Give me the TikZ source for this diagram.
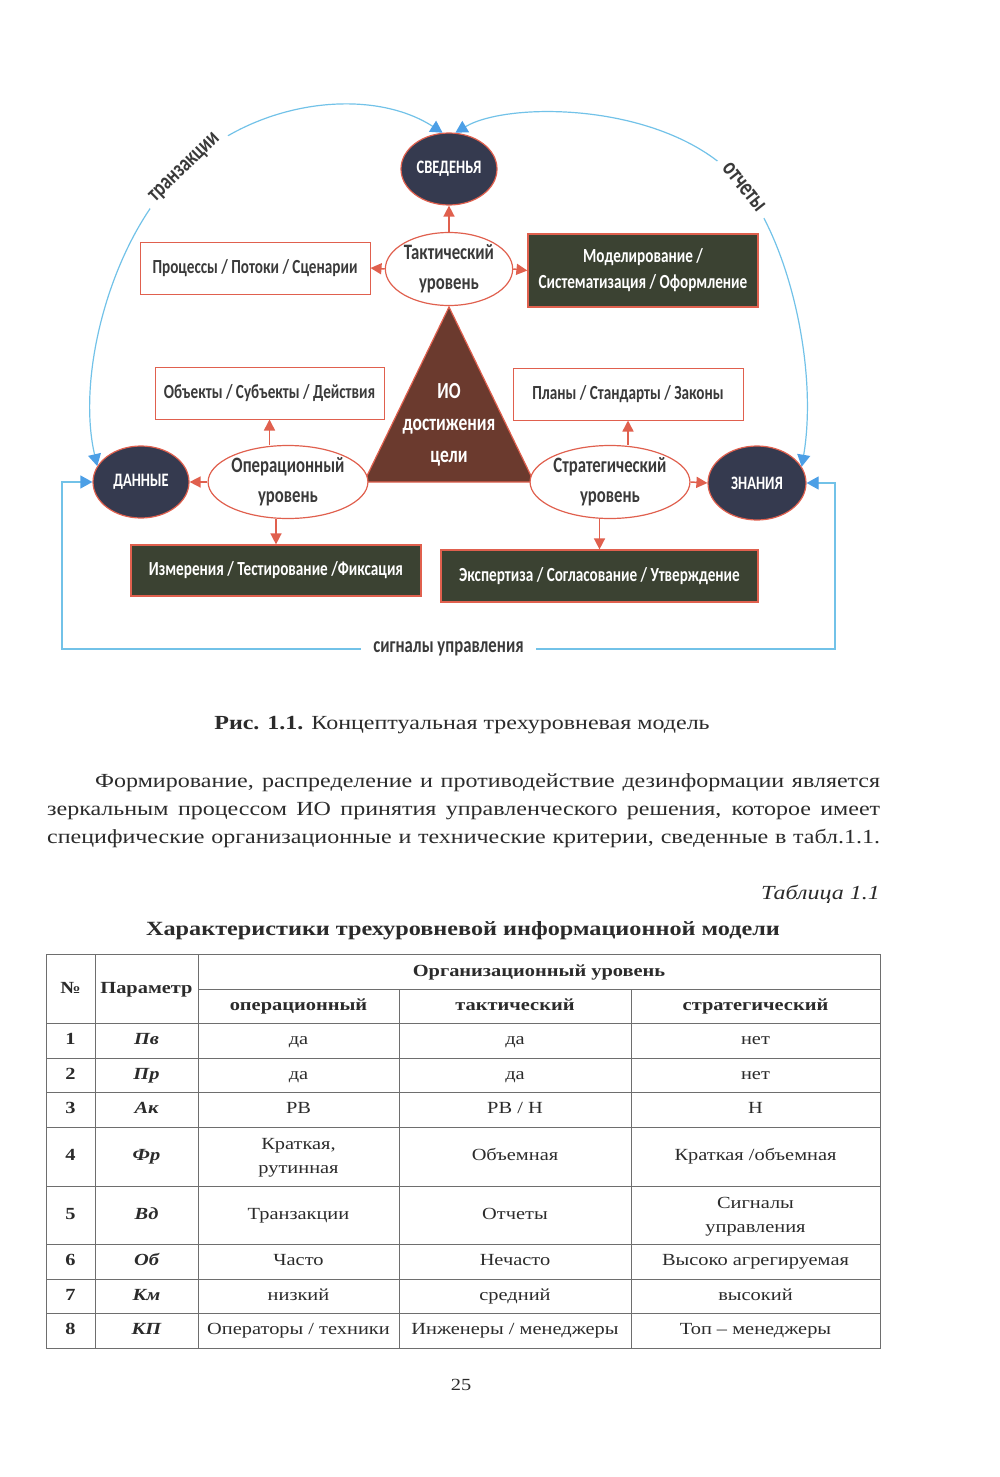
\documentclass[tikz,border=0pt]{standalone}
\usepackage{fontspec}
\setmainfont{Liberation Serif}[FakeStretch=1.2]
\newfontfamily\dfont{Carlito}[FakeStretch=0.76]
\usetikzlibrary{shapes.geometric,arrows.meta,calc}
\definecolor{navy}{HTML}{353A4F}
\definecolor{olive}{HTML}{3B4232}
\definecolor{brownfill}{HTML}{6B3A2E}
\definecolor{redl}{HTML}{E0604E}
\definecolor{bluel}{HTML}{72C2E8}
\definecolor{bluetip}{HTML}{4C9FE6}
\definecolor{dgray}{HTML}{3A3A3A}
\definecolor{ink}{HTML}{2B2B2B}
\definecolor{gridc}{HTML}{6E6E6E}
\begin{document}
\begin{tikzpicture}[x=1pt,y=-1pt,
  darkell/.style={ellipse, draw=redl, line width=1.2pt, fill=navy, text=white,
    font=\dfont\bfseries\fontsize{19}{22}\selectfont, minimum width=96, minimum height=72, inner sep=0pt},
  lvl/.style={ellipse, draw=redl, line width=1.2pt, fill=white, text=dgray, align=center,
    font=\dfont\bfseries\fontsize{22}{30}\selectfont, minimum height=73, inner sep=0pt},
  wbox/.style={rectangle, draw=redl, line width=1pt, fill=white, text=dgray,
    font=\dfont\bfseries\fontsize{20}{26}\selectfont, minimum height=52, inner sep=0pt},
  gbox/.style={rectangle, draw=redl, line width=1.2pt, fill=olive, text=white, align=center,
    font=\dfont\bfseries\fontsize{20}{26}\selectfont, inner sep=0pt},
  ra/.style={draw=redl, line width=1.5pt, -{Triangle[length=11pt,width=11pt]}},
  bl/.style={draw=bluel, line width=1.2pt,
    {Triangle[length=12pt,width=13pt,color=bluetip]}-{Triangle[length=12pt,width=13pt,color=bluetip]}},
  blab/.style={fill=white, text=dgray, font=\dfont\bfseries\fontsize{22}{24}\selectfont, inner xsep=8pt, inner ysep=2pt},
  tcell/.style={font=\fontsize{17}{24}\selectfont, text=ink, align=center, inner sep=0pt, text height=12pt, text depth=4pt},
  tcellb/.style={font=\fontsize{17}{24}\selectfont, text=ink, align=center, inner sep=0pt},
  thead/.style={font=\bfseries\fontsize{17}{24}\selectfont, text=ink, align=center, inner sep=0pt, text height=12pt, text depth=4pt},
  tpar/.style={font=\bfseries\itshape\fontsize{17}{24}\selectfont, text=ink, inner sep=0pt, text height=12pt, text depth=4pt},
  grid/.style={draw=gridc, line width=1pt}
]
\useasboundingbox (0,0) rectangle (1000,1477);

% ---------- diagram ----------
\draw[draw=redl, line width=1.2pt, fill=brownfill] (449,307) -- (534,482) -- (364,482) -- cycle;
\node[text=white, align=center, font=\dfont\bfseries\fontsize{23}{32}\selectfont] (io) at (449,425) {ИО\\достижения\\цели};

\node[darkell] (sv) at (449,169) {СВЕДЕНЬЯ};
\node[lvl, minimum width=120] (tac) at (449,269) {Тактический\\уровень};
\node[wbox, minimum width=230] (proc) at (255,268) {Процессы / Потоки / Сценарии};
\node[gbox, minimum width=230, minimum height=73] (mod) at (643,270.5) {Моделирование /\\Систематизация / Оформление};
\node[wbox, minimum width=229] (obj) at (269.5,393) {Объекты / Субъекты / Действия};
\node[wbox, minimum width=230] (plan) at (628,394) {Планы / Стандарты / Законы};
\node[darkell] (dan) at (141,482) {ДАННЫЕ};
\node[lvl, minimum width=149] (op) at (288,482) {Операционный\\уровень};
\node[lvl, minimum width=151] (str) at (610,482) {Стратегический\\уровень};
\node[darkell, minimum width=98, minimum height=74] (zn) at (757,483) {ЗНАНИЯ};
\node[gbox, minimum width=290, minimum height=51] (izm) at (276,570.5) {Измерения / Тестирование /Фиксация};
\node[gbox, minimum width=317, minimum height=52] (exp) at (599.5,576) {Экспертиза / Согласование / Утверждение};

\draw[ra] (tac.north) -- (sv.south);
\draw[ra] (tac.west) -- (proc.east);
\draw[ra] (tac.east) -- (mod.west);
\draw[ra] (op.west) -- (dan.east);
\draw[ra] (op.north -| obj.south) -- (obj.south);
\draw[ra] (op.south -| izm.north) -- (izm.north);
\draw[ra] (str.north -| plan.south) -- (plan.south);
\draw[ra] (str.south -| exp.north) -- (exp.north);
\draw[ra] (str.east) -- (zn.west);

\draw[bl] (dan.160) .. controls (75,370) and (115,230) .. (185,168)
  .. controls (255,100) and (370,86) .. (sv.100)
  node[pos=0, sloped, blab, font=\dfont\bfseries\fontsize{23.5}{24}\selectfont] (trl) {транзакции};
\draw[bl] (sv.80) .. controls (510,100) and (677,102) .. (744,187)
  .. controls (790,245) and (818,370) .. (zn.20)
  node[pos=0, sloped, blab, font=\dfont\bfseries\fontsize{25}{26}\selectfont] (otl) {отчеты};
\draw[bl] (dan.west) -| (62,649) -- (835,649)
  node[pos=0.5, blab, inner xsep=12pt] (sgl) {сигналы управления} |- (zn.east);

% ---------- caption and text ----------
\node[text=ink, font=\fontsize{20}{24}\selectfont] (cap) at (462,725)
  {\textbf{Рис. 1.1.} Концептуальная трехуровневая модель};
\node[text=ink, anchor=north west, inner sep=0pt, text width=833pt, align=justify,
  font=\fontsize{20}{28}\selectfont] (par) at (47,773)
  {\parfillskip=0pt\hspace*{48pt}Формирование, распределение и противодействие дезинформации является\linebreak
   зеркальным процессом ИО принятия управленческого решения, которое имеет\linebreak
   специфические организационные и технические критерии, сведенные в табл.1.1.\par};
\node[text=ink, anchor=base east, inner sep=0pt, font=\itshape\fontsize{20}{24}\selectfont] (tabn) at (880,899) {Таблица 1.1};
\node[text=ink, font=\bfseries\fontsize{20.2}{24}\selectfont] (ttl) at (463,931)
  {Характеристики трехуровневой информационной модели};

% ---------- table ----------
\draw[grid] (46,954) rectangle (880,1348);
\draw[grid] (198,989) -- (880,989);
\foreach \yy in {1023,1058,1092,1127,1186,1244,1279,1313}
  \draw[grid] (46,\yy) -- (880,\yy);
\draw[grid] (95,954) -- (95,1348);
\draw[grid] (198,954) -- (198,1348);
\draw[grid] (399,989) -- (399,1348);
\draw[grid] (631,989) -- (631,1348);

\node[thead] (hn) at (70.5,989) {№};
\node[thead] (hp) at (146.5,989) {Параметр};
\node[thead] (ho) at (539,972) {Организационный уровень};
\node[thead] (h1) at (298.5,1006) {операционный};
\node[thead] (h2) at (515,1006) {тактический};
\node[thead] (h3) at (755.5,1006) {стратегический};

\node[thead] (r1n) at (70.5,1040.5) {1};
\node[tpar]  (r1p) at (146.5,1040.5) {Пв};
\node[tcell] (r1a) at (298.5,1040.5) {да};
\node[tcell] (r1b) at (515,1040.5) {да};
\node[tcell] (r1c) at (755.5,1040.5) {нет};

\node[thead] (r2n) at (70.5,1075) {2};
\node[tpar]  (r2p) at (146.5,1075) {Пр};
\node[tcell] (r2a) at (298.5,1075) {да};
\node[tcell] (r2b) at (515,1075) {да};
\node[tcell] (r2c) at (755.5,1075) {нет};

\node[thead] (r3n) at (70.5,1109.5) {3};
\node[tpar]  (r3p) at (146.5,1109.5) {Ак};
\node[tcell] (r3a) at (298.5,1109.5) {РВ};
\node[tcell] (r3b) at (515,1109.5) {РВ / Н};
\node[tcell] (r3c) at (755.5,1109.5) {Н};

\node[thead] (r4n) at (70.5,1156.5) {4};
\node[tpar]  (r4p) at (146.5,1156.5) {Фр};
\node[tcellb] (r4a) at (298.5,1158) {Краткая,\\рутинная};
\node[tcell] (r4b) at (515,1156.5) {Объемная};
\node[tcell] (r4c) at (755.5,1156.5) {Краткая /объемная};

\node[thead] (r5n) at (70.5,1215) {5};
\node[tpar]  (r5p) at (146.5,1215) {Вд};
\node[tcell] (r5a) at (298.5,1215) {Транзакции};
\node[tcell] (r5b) at (515,1215) {Отчеты};
\node[tcellb] (r5c) at (755.5,1216.5) {Сигналы\\управления};

\node[thead] (r6n) at (70.5,1261.5) {6};
\node[tpar]  (r6p) at (146.5,1261.5) {Об};
\node[tcell] (r6a) at (298.5,1261.5) {Часто};
\node[tcell] (r6b) at (515,1261.5) {Нечасто};
\node[tcell] (r6c) at (755.5,1261.5) {Высоко агрегируемая};

\node[thead] (r7n) at (70.5,1296) {7};
\node[tpar]  (r7p) at (146.5,1296) {Км};
\node[tcell] (r7a) at (298.5,1296) {низкий};
\node[tcell] (r7b) at (515,1296) {средний};
\node[tcell] (r7c) at (755.5,1296) {высокий};

\node[thead] (r8n) at (70.5,1330.5) {8};
\node[tpar]  (r8p) at (146.5,1330.5) {КП};
\node[tcell] (r8a) at (298.5,1330.5) {Операторы / техники};
\node[tcell] (r8b) at (515,1330.5) {Инженеры / менеджеры};
\node[tcell] (r8c) at (755.5,1330.5) {Топ – менеджеры};

\node[tcell] (pgn) at (461,1386) {25};
\end{tikzpicture}
\end{document}
